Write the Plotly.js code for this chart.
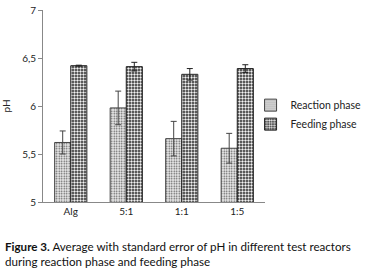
<!DOCTYPE html>
<html><head><meta charset="utf-8">
<script src="https://cdn.plot.ly/plotly-3.0.1.min.js"></script>
<style>html,body{margin:0;padding:0;background:#fff}#chart{width:365px;height:272px}</style>
</head><body><div id="chart"></div>
<script>
const categories = ["Alg", "5:1", "1:1", "1:5"];
const reactionValues = [5.62, 5.98, 5.66, 5.56];
const reactionErrors = [0.12, 0.175, 0.18, 0.155];
const feedingValues = [6.42, 6.41, 6.33, 6.39];
const feedingErrors = [0.005, 0.045, 0.06, 0.04];
const yTickValues = [5, 5.5, 6, 6.5, 7];
const yTickLabels = ["5", "5,5", "6", "6,5", "7"];
const seriesNames = ["Reaction phase", "Feeding phase"];

const font = "Lato, 'Open Sans', sans-serif";
const traces = [
  {
    type: "bar", name: seriesNames[0], x: categories, y: reactionValues,
    error_y: {type: "data", array: reactionErrors, visible: true, color: "#444", thickness: 1, width: 3},
    marker: {color: "#ffffff", line: {color: "#444", width: 1},
      pattern: {shape: ".", bgcolor: "#ececec", fgcolor: "#555", size: 2.5, solidity: 0.3}}
  },
  {
    type: "bar", name: seriesNames[1], x: categories, y: feedingValues,
    error_y: {type: "data", array: feedingErrors, visible: true, color: "#222", thickness: 1, width: 3},
    marker: {color: "#333", line: {color: "#222", width: 1},
      pattern: {shape: ".", bgcolor: "#262626", fgcolor: "#f4f4f4", size: 3, solidity: 0.5}}
  }
];
const layout = {
  width: 365, height: 272,
  margin: {l: 43, r: 100, t: 10, b: 70, autoexpand: false},
  paper_bgcolor: "#fff", plot_bgcolor: "#fff",
  barmode: "group", bargap: 0.42, bargroupgap: 0,
  font: {family: font, size: 10, color: "#222"},
  showlegend: true,
  legend: {x: 0.935, y: 0.58, xanchor: "left", yanchor: "top", font: {family: font, size: 10.5, color: "#222"},
    bgcolor: "rgba(0,0,0,0)", itemwidth: 30, tracegroupgap: 0},
  xaxis: {showline: true, linecolor: "#888", linewidth: 1, ticks: "", showgrid: false, zeroline: false,
    tickfont: {family: font, size: 10, color: "#222"}},
  yaxis: {range: [5, 7], tickvals: yTickValues, ticktext: yTickLabels, showline: true, linecolor: "#888",
    linewidth: 1, ticks: "outside", ticklen: 4, tickcolor: "#888", showgrid: false, zeroline: false,
    tickfont: {family: font, size: 10, color: "#222"},
    title: {text: "pH", font: {family: font, size: 10, color: "#222"}, standoff: 10}},
  annotations: [
    {xref: "paper", yref: "paper", x: -0.178, y: -0.185, xanchor: "left", yanchor: "top", align: "left",
     showarrow: false, font: {family: font, size: 11.6, color: "#111"},
     text: "<b>Figure 3.</b> Average with standard error of pH in different test reactors<br>during reaction phase and feeding phase"}
  ]
};
Plotly.newPlot("chart", traces, layout, {displayModeBar: false, staticPlot: true});
</script></body></html>
